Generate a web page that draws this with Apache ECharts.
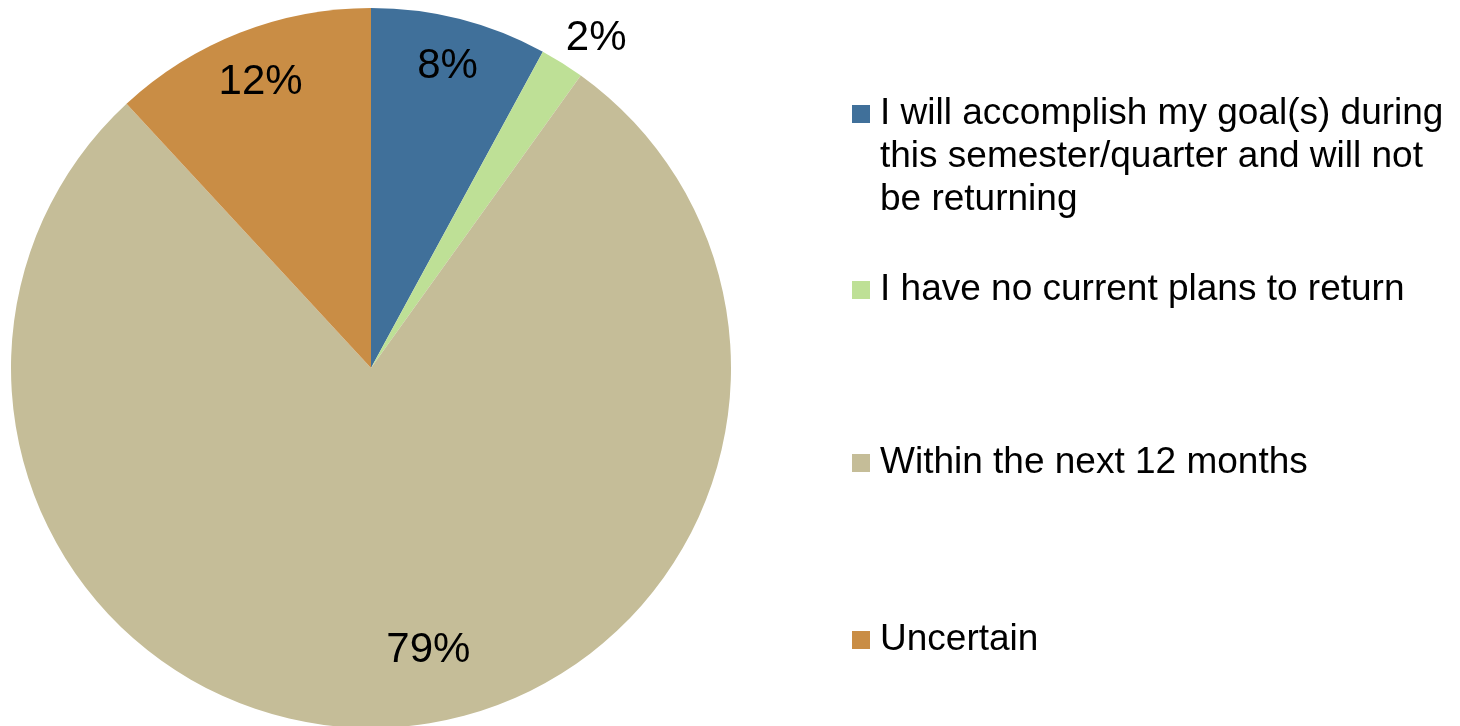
<!DOCTYPE html>
<html>
<head>
<meta charset="utf-8">
<script src="https://cdn.jsdelivr.net/npm/echarts@6/dist/echarts.min.js"></script>
<style>
  html, body { margin: 0; padding: 0; background: #fff; }
  #chart { width: 1460px; height: 726px; }
</style>
</head>
<body>
<div id="chart"></div>
<script>
// data
var categories = [
    "I will accomplish my goal(s) during this semester/quarter and will not be returning",
    "I have no current plans to return",
    "Within the next 12 months",
    "Uncertain"
];
var values = [8, 2, 79, 12];
var colors = ["#40709A", "#BEE096", "#C5BD98", "#C98D45"];

var FONT = "'Liberation Sans', Arial, sans-serif";

function pieData() {
    var arr = [];
    for (var i = 0; i < categories.length; i++) {
        arr.push({name: categories[i], value: values[i], itemStyle: {color: colors[i]}});
    }
    return arr;
}

// wrap the long legend entry the same way as the original
function wrapName(name) {
    return name.replace(' this ', '\nthis ').replace(' be returning', '\nbe returning');
}

// square marker 18px, padded to the right (text starts 10px after it);
// the first entry gets a tall icon box so the square sits on the first text line
var iconShort = 'path://M0,0h18v18h-18z M22.99,17.99h0.01v0.01h-0.01z';
var iconTall = 'path://M0,0h18v18h-18z M22.99,103.99h0.01v0.01h-0.01z';

// one legend per entry so the spacing matches the original
var legendTops = [92.5, 268.5, 441.5, 618.5];
var legends = [];
for (var i = 0; i < categories.length; i++) {
    legends.push({
        data: [categories[i]],
        orient: 'vertical',
        left: 852,
        top: legendTops[i],
        padding: 0,
        icon: i === 0 ? iconTall : iconShort,
        itemWidth: 23,
        itemHeight: i === 0 ? 104 : 18,
        selectedMode: false,
        formatter: wrapName,
        textStyle: {
            fontFamily: FONT,
            fontSize: 37,
            lineHeight: 43,
            color: '#000'
        }
    });
}

var myChart = echarts.init(document.getElementById('chart'));

var option = {
    animation: false,
    legend: legends,
    series: [
        {
            type: 'pie',
            center: [371, 368],
            radius: [0, 360],
            startAngle: 90,
            clockwise: true,
            avoidLabelOverlap: false,
            silent: true,
            label: {show: false},
            labelLine: {show: false},
            data: pieData()
        },
        {
            // invisible ring, only carries the value labels
            type: 'pie',
            center: [371, 368],
            radius: [290, 326],
            startAngle: 90,
            clockwise: true,
            avoidLabelOverlap: false,
            silent: true,
            itemStyle: {color: 'rgba(0,0,0,0)'},
            label: {
                show: true,
                position: 'inside',
                formatter: '{c}%',
                fontFamily: FONT,
                fontSize: 42,
                color: '#000'
            },
            labelLine: {show: false},
            labelLayout: function (params) {
                if (params.dataIndex === 1) return {dx: 60, dy: -66};
                if (params.dataIndex === 2) return {dx: 38, dy: -28};
                if (params.dataIndex === 3) return {dx: 3, dy: 4};
                return {};
            },
            data: categories.map(function (c, i) {
                return {name: c, value: values[i]};
            })
        }
    ]
};

myChart.setOption(option);
</script>
</body>
</html>
